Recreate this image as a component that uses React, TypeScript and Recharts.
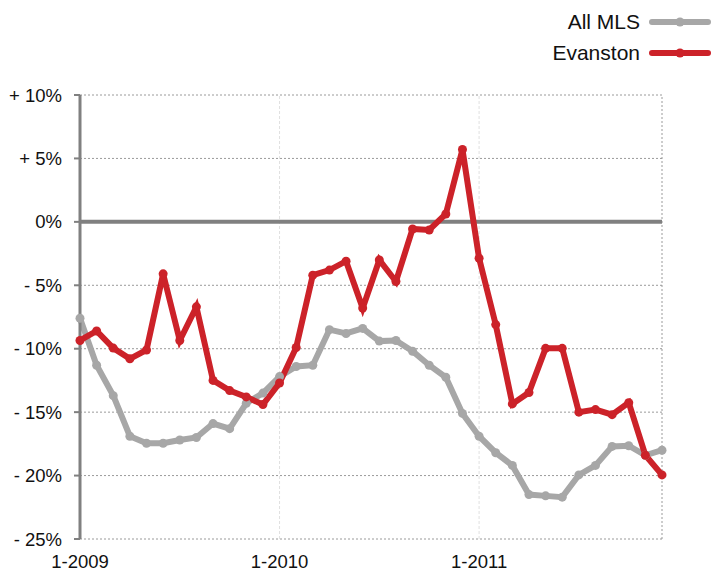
import { LineChart, Line, XAxis, YAxis, CartesianGrid, ReferenceLine, Legend } from "recharts"

const months = [
  "1-2009", "2-2009", "3-2009", "4-2009", "5-2009", "6-2009", "7-2009", "8-2009", "9-2009", "10-2009", "11-2009", "12-2009",
  "1-2010", "2-2010", "3-2010", "4-2010", "5-2010", "6-2010", "7-2010", "8-2010", "9-2010", "10-2010", "11-2010", "12-2010",
  "1-2011", "2-2011", "3-2011", "4-2011", "5-2011", "6-2011", "7-2011", "8-2011", "9-2011", "10-2011", "11-2011", "12-2011",
]

const allMls = [
  -7.6, -11.3, -13.7, -16.9, -17.45, -17.45, -17.2, -17.0, -15.9, -16.3, -14.3, -13.5,
  -12.2, -11.4, -11.3, -8.5, -8.8, -8.4, -9.4, -9.35, -10.2, -11.3, -12.25, -15.1,
  -16.9, -18.2, -19.2, -21.5, -21.6, -21.7, -19.95, -19.2, -17.7, -17.65, -18.4, -18.0,
]

const evanston = [
  -9.35, -8.6, -9.95, -10.8, -10.1, -4.1, -9.35, -6.7, -12.5, -13.3, -13.8, -14.4,
  -12.7, -9.9, -4.2, -3.8, -3.1, -6.8, -3.0, -4.7, -0.56, -0.64, 0.62, 5.7,
  -2.87, -8.1, -14.35, -13.45, -9.97, -9.97, -15.0, -14.8, -15.2, -14.25, -18.4, -19.95,
]

const xTicks = ["1-2010", "1-2011"]
const xTickLabels = ["1-2009", "1-2010", "1-2011"]
const yTicks = [-25, -20, -15, -10, -5, 0, 5, 10]

const data = months.map((m, i) => ({ month: m, allMls: allMls[i], evanston: evanston[i] }))

const FONT = "'Liberation Sans', Arial, Helvetica, sans-serif"
const GRAY = "#a7a7a7"
const RED = "#cc2229"

function fmtPct(v: number) {
  if (v > 0) return `+ ${v}%`
  if (v < 0) return `- ${Math.abs(v)}%`
  return "0%"
}

function LegendBox() {
  const items = [
    { name: "All MLS", color: GRAY },
    { name: "Evanston", color: RED },
  ]
  return (
    <div style={{ fontFamily: FONT, fontSize: 21, color: "#111" }}>
      {items.map((it) => (
        <div key={it.name} style={{ display: "flex", alignItems: "center", justifyContent: "flex-end", height: 31 }}>
          <span>{it.name}</span>
          <svg width={62} height={12} style={{ marginLeft: 9 }}>
            <line x1={3} y1={6} x2={59} y2={6} stroke={it.color} strokeWidth={6} strokeLinecap="round" />
            <circle cx={31} cy={6} r={4.5} fill={it.color} />
          </svg>
        </div>
      ))}
    </div>
  )
}

export default function App() {
  return (
    <div style={{ position: "absolute", left: 0, top: 0, width: 715, height: 572, background: "#fff" }}>
      <LineChart width={715} height={572} data={data} margin={{ top: 95, right: 53, left: 0, bottom: 0 }}>
        <CartesianGrid vertical={false} stroke="#9a9a9a" strokeDasharray="2 2" />
        {xTicks.map((t) => (
          <ReferenceLine key={t} x={t} stroke="#e0e0e0" strokeDasharray="3 2" />
        ))}
        <ReferenceLine x={months[months.length - 1]} stroke="#9a9a9a" strokeDasharray="2 2" />
        <XAxis
          dataKey="month"
          ticks={xTickLabels}
          interval={0}
          axisLine={false}
          tickLine={false}
          tickSize={0}
          tickMargin={16}
          height={33}
          tick={{ fill: "#111", fontSize: 18.5, fontFamily: FONT }}
        />
        <YAxis
          type="number"
          domain={[-25, 10]}
          ticks={yTicks}
          interval={0}
          width={80}
          tickSize={6}
          tickMargin={12}
          tickFormatter={fmtPct}
          axisLine={{ stroke: "#808080", strokeWidth: 3 }}
          tickLine={{ stroke: "#808080", strokeWidth: 2 }}
          tick={{ fill: "#111", fontSize: 18.5, fontFamily: FONT }}
        />
        <ReferenceLine y={0} stroke="#808080" strokeWidth={4} />
        <Legend
          layout="vertical"
          align="center"
          verticalAlign="middle"
          wrapperStyle={{ top: 6, right: 4 }}
          content={() => <LegendBox />}
        />
        <Line
          dataKey="allMls"
          name="All MLS"
          stroke={GRAY}
          strokeWidth={6}
          dot={{ r: 4.5, fill: GRAY, stroke: "none" }}
          isAnimationActive={false}
        />
        <Line
          dataKey="evanston"
          name="Evanston"
          stroke={RED}
          strokeWidth={6}
          dot={{ r: 4.5, fill: RED, stroke: "none" }}
          isAnimationActive={false}
        />
      </LineChart>
    </div>
  )
}
